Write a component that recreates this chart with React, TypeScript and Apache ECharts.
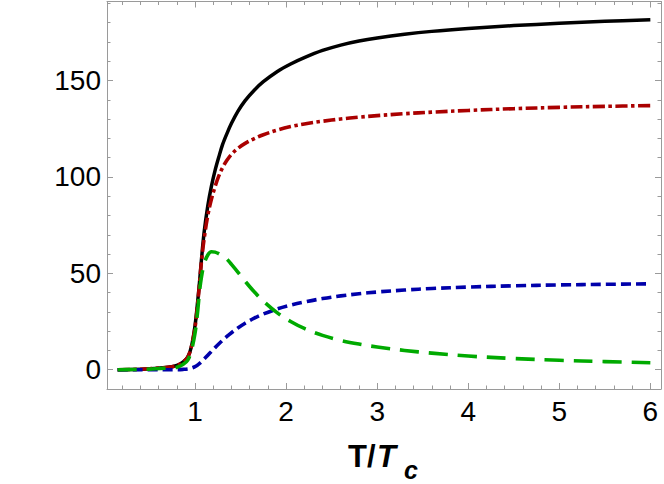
import React, { useEffect, useRef } from "react";
import * as echarts from "echarts";

// T / Tc sample points
const tValues = [0.15, 0.3, 0.5, 0.7, 0.8, 0.87, 0.92, 0.96, 1.0, 1.03, 1.05, 1.07, 1.1, 1.14, 1.18, 1.22, 1.26, 1.3, 1.35, 1.4, 1.47, 1.55, 1.65, 1.75, 1.9, 2.05, 2.2, 2.4, 2.6, 2.8, 3.0, 3.3, 3.6, 4.0, 4.5, 5.0, 5.5, 6.0];
// black solid
const blackValues = [0, 0.1, 0.5, 1.3, 2.2, 4, 6.5, 12, 23, 36, 46, 57, 71.4, 85, 95.2, 103.4, 110.2, 116.5, 122.5, 127.8, 134, 139.6, 145, 149.4, 154.6, 158.6, 161.9, 165.6, 168.4, 170.5, 172.1, 174.0, 175.5, 177.0, 178.5, 179.7, 180.7, 181.5];
// dark red dash-dot
const redValues = [0, 0.1, 0.5, 1.3, 2.2, 4, 6.5, 12, 22, 35, 45, 56, 68, 80, 88.5, 95, 100.4, 104.6, 108.6, 111.7, 114.8, 117.4, 119.9, 121.9, 124.3, 126.1, 127.5, 128.9, 130.05, 131.0, 131.8, 132.8, 133.6, 134.5, 135.4, 136.1, 136.6, 137.0];
// dark blue short dash
const blueValues = [0, 0, 0, 0, 0.05, 0.2, 0.4, 0.8, 1.6, 2.5, 3.26, 4.1, 5.5, 7.5, 9.5, 11.46, 13.34, 15.14, 17.24, 19.19, 21.64, 24.12, 26.72, 28.92, 31.47, 33.5, 35.15, 36.9, 38.3, 39.42, 40.32, 41.34, 42.12, 42.88, 43.53, 43.98, 44.3, 44.55];
// green long dash
const greenValues = [0, 0.1, 0.3, 0.9, 1.3, 2.8, 5, 10, 19, 31, 41, 48, 55, 59.5, 61.2, 61, 60.2, 59, 57.3, 54.6, 50.6, 45.9, 40.4, 35.6, 29.6, 25.0, 21.4, 17.8, 15.2, 13.3, 11.8, 10.0, 8.6, 7.1, 5.8, 4.9, 4.2, 3.6];

const xMajorTicks = [1, 2, 3, 4, 5, 6];
const xMinorTicks = [0.2, 0.4, 0.6, 0.8, 1.2, 1.4, 1.6, 1.8, 2.2, 2.4, 2.6, 2.8, 3.2, 3.4, 3.6, 3.8, 4.2, 4.4, 4.6, 4.8, 5.2, 5.4, 5.6, 5.8];
const yMajorTicks = [0, 50, 100, 150];
const yMinorTicks = [10, 20, 30, 40, 60, 70, 80, 90, 110, 120, 130, 140, 160, 170, 180, 190];

const X_MIN = 0.033;
const X_MAX = 6.117;
const Y_MIN = -10;
const Y_MAX = 191;

const FRAME = "#9a9a9a";
const FONT = "'Liberation Sans', Arial, Helvetica, sans-serif";

const pairs = (ys: number[]) => tValues.map((t, i) => [t, ys[i]]);

export default function App() {
  const ref = useRef<HTMLDivElement>(null);
  useEffect(() => {
    if (!ref.current) return;
    const chart = echarts.init(ref.current, undefined, { renderer: "svg" });

    const xAxisBase = (position: "top" | "bottom", ticks: number[], len: number, major: boolean, labels: boolean) => ({
      type: "value",
      position,
      min: X_MIN,
      max: X_MAX,
      axisLine: { show: major, onZero: false, lineStyle: { color: FRAME, width: 1 } },
      axisTick: { show: true, inside: true, length: len, customValues: ticks, lineStyle: { color: FRAME, width: 1 } },
      axisLabel: labels
        ? { show: true, customValues: xMajorTicks, color: "#000", fontSize: 28, fontFamily: FONT, margin: 8 }
        : { show: false },
      splitLine: { show: false },
    });
    const yAxisBase = (position: "left" | "right", ticks: number[], len: number, major: boolean, labels: boolean) => ({
      type: "value",
      position,
      min: Y_MIN,
      max: Y_MAX,
      axisLine: { show: major, onZero: false, lineStyle: { color: FRAME, width: 1 } },
      axisTick: { show: true, inside: true, length: len, customValues: ticks, lineStyle: { color: FRAME, width: 1 } },
      axisLabel: labels
        ? { show: true, customValues: yMajorTicks, color: "#000", fontSize: 28, fontFamily: FONT, margin: 6 }
        : { show: false },
      splitLine: { show: false },
    });

    const lineSeries = (name: string, ys: number[], color: string, type: any, width: number) => ({
      name,
      type: "line",
      xAxisIndex: 0,
      yAxisIndex: 0,
      data: pairs(ys),
      showSymbol: false,
      symbol: "none",
      smooth: 0.35,
      lineStyle: { color, width, type, cap: "butt", join: "round" },
      z: 3,
    });

    chart.setOption({
      animation: false,
      backgroundColor: "#fff",
      grid: { left: 107, right: 3, top: 1.5, bottom: 95, containLabel: false },
      xAxis: [
        xAxisBase("bottom", xMajorTicks, 6, true, true),
        xAxisBase("bottom", xMinorTicks, 3.5, false, false),
        xAxisBase("top", xMajorTicks, 6, true, false),
        xAxisBase("top", xMinorTicks, 3.5, false, false),
      ],
      yAxis: [
        yAxisBase("left", yMajorTicks, 6, true, true),
        yAxisBase("left", yMinorTicks, 3.5, false, false),
        yAxisBase("right", yMajorTicks, 6, true, false),
        yAxisBase("right", yMinorTicks, 3.5, false, false),
      ],
      series: [
        lineSeries("black", blackValues, "#000000", "solid", 3.5),
        lineSeries("red", redValues, "#aa0000", [12, 3.5, 3.5, 3.5], 3.6),
        lineSeries("blue", blueValues, "#0000aa", [10, 5], 3.6),
        lineSeries("green", greenValues, "#00aa00", [19, 10], 3.6),
      ],
      graphic: [
        {
          type: "text",
          x: 348,
          y: 456.6,
          style: { text: "T/", fontSize: 31, fontWeight: "bold", fontFamily: FONT, fill: "#000", textAlign: "left", textVerticalAlign: "middle" },
        },
        {
          type: "text",
          x: 377,
          y: 456.6,
          style: { text: "T", fontSize: 31, fontWeight: "bold", fontStyle: "italic", fontFamily: FONT, fill: "#000", textAlign: "left", textVerticalAlign: "middle" },
        },
        {
          type: "text",
          x: 404,
          y: 469.5,
          style: { text: "c", fontSize: 25, fontWeight: "bold", fontStyle: "italic", fontFamily: FONT, fill: "#000", textAlign: "left", textVerticalAlign: "middle" },
        },
      ],
    });
    return () => chart.dispose();
  }, []);
  return (
    <div
      ref={ref}
      style={{ position: "fixed", left: 0, top: 0, width: 664, height: 484, background: "#fff" }}
    />
  );
}
